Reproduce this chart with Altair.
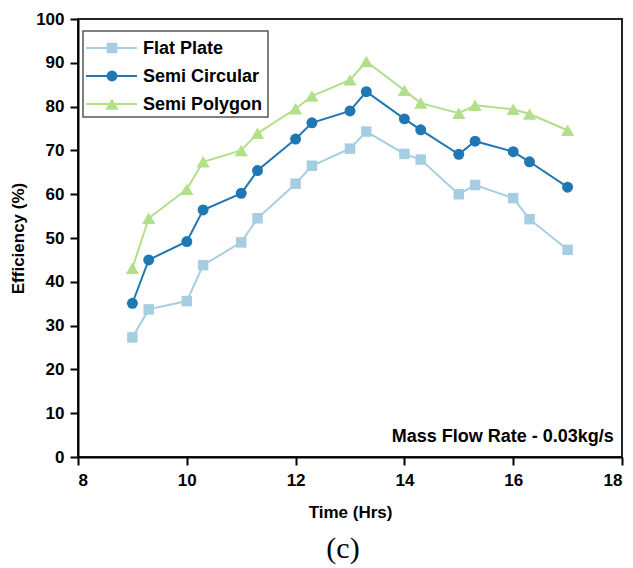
import altair as alt
import pandas as pd

time = [9, 9.3, 10, 10.3, 11, 11.3, 12, 12.3, 13, 13.3, 14, 14.3, 15, 15.3, 16, 16.3, 17]
flat_plate = [27.3, 33.7, 35.6, 43.8, 49.0, 54.5, 62.4, 66.5, 70.4, 74.3, 69.2, 67.9, 60.0, 62.1, 59.1, 54.3, 47.3]
semi_circular = [35.1, 45.0, 49.2, 56.4, 60.2, 65.4, 72.6, 76.3, 79.0, 83.4, 77.2, 74.7, 69.1, 72.1, 69.7, 67.4, 61.6]
semi_polygon = [43.1, 54.5, 61.1, 67.4, 70.0, 73.9, 79.5, 82.4, 86.1, 90.3, 83.7, 80.8, 78.5, 80.3, 79.4, 78.3, 74.6]

series_names = ["Flat Plate", "Semi Circular", "Semi Polygon"]
colors = ["#a6cee3", "#1f78b4", "#b2df8a"]
shapes = ["square", "circle", "triangle-up"]
sizes = [110, 120, 175]

rows = []
for name, vals in zip(series_names, [flat_plate, semi_circular, semi_polygon]):
    for t, v in zip(time, vals):
        rows.append({"time": t, "eff": v, "series": name})
df = pd.DataFrame(rows)

W, H = 544, 438
FONT = "Liberation Sans"

xenc = alt.X("time:Q", scale=alt.Scale(domain=[8, 18], nice=False),
             axis=alt.Axis(values=[8, 10, 12, 14, 16, 18], title="Time (Hrs)",
                           titlePadding=16, labelPadding=7))
yenc = alt.Y("eff:Q", scale=alt.Scale(domain=[0, 100], nice=False),
             axis=alt.Axis(values=list(range(0, 101, 10)), title="Efficiency (%)",
                           titlePadding=8, labelPadding=6))

layers = []
for name, col, shp, sz in zip(series_names, colors, shapes, sizes):
    sub = df[df.series == name]
    layers.append(alt.Chart(sub).mark_line(color=col, strokeWidth=2).encode(x=xenc, y=yenc))
    layers.append(alt.Chart(sub).mark_point(color=col, filled=True, opacity=1, shape=shp, size=sz).encode(x=xenc, y=yenc))

one = alt.Data(values=[{"a": 1}])

# legend box
layers.append(alt.Chart(one).mark_rect(fill="white", stroke="#555555", strokeWidth=1.5).encode(
    x=alt.value(5), x2=alt.value(190), y=alt.value(12), y2=alt.value(98)))
for i, (name, col, shp, sz) in enumerate(zip(series_names, colors, shapes, sizes)):
    yy = 29 + 28 * i
    layers.append(alt.Chart(one).mark_rule(color=col, strokeWidth=2).encode(
        x=alt.value(8), x2=alt.value(59), y=alt.value(yy)))
    layers.append(alt.Chart(one).mark_point(color=col, filled=True, opacity=1, shape=shp, size=sz).encode(
        x=alt.value(34), y=alt.value(yy)))
    layers.append(alt.Chart(one).mark_text(text=name, font=FONT, fontWeight="bold", fontSize=18,
                                           align="left", baseline="middle", color="black").encode(
        x=alt.value(65), y=alt.value(yy + 1)))

ann = pd.DataFrame({"x": [17.85], "y": [3.4], "t": ["Mass Flow Rate - 0.03kg/s"]})
layers.append(alt.Chart(ann).mark_text(font=FONT, fontWeight="bold", fontSize=18, align="right",
                                       baseline="alphabetic", color="black").encode(
    x=alt.X("x:Q", scale=alt.Scale(domain=[8, 18], nice=False)),
    y=alt.Y("y:Q", scale=alt.Scale(domain=[0, 100], nice=False)), text="t:N"))

layers.append(alt.Chart(one).mark_text(text="(c)", font="Liberation Serif", fontSize=30,
                                       align="center", baseline="middle", color="black").encode(
    x=alt.value(265), y=alt.value(530)))

chart = alt.layer(*layers).properties(
    width=W, height=H,
    background="white",
    autosize=alt.AutoSizeParams(type="none"),
    padding={"left": 78, "top": 19, "right": 11, "bottom": 111},
).configure_view(stroke="#222222", strokeWidth=2).configure_axis(
    labelFont=FONT, labelFontWeight="bold", labelFontSize=17, labelColor="black",
    titleFont=FONT, titleFontWeight="bold", titleFontSize=17, titleColor="black",
    domainColor="black", domainWidth=2, tickColor="black", tickWidth=2, tickSize=8,
    grid=False,
)

chart.save("out.html", embed_options={"renderer": "svg", "actions": False})
